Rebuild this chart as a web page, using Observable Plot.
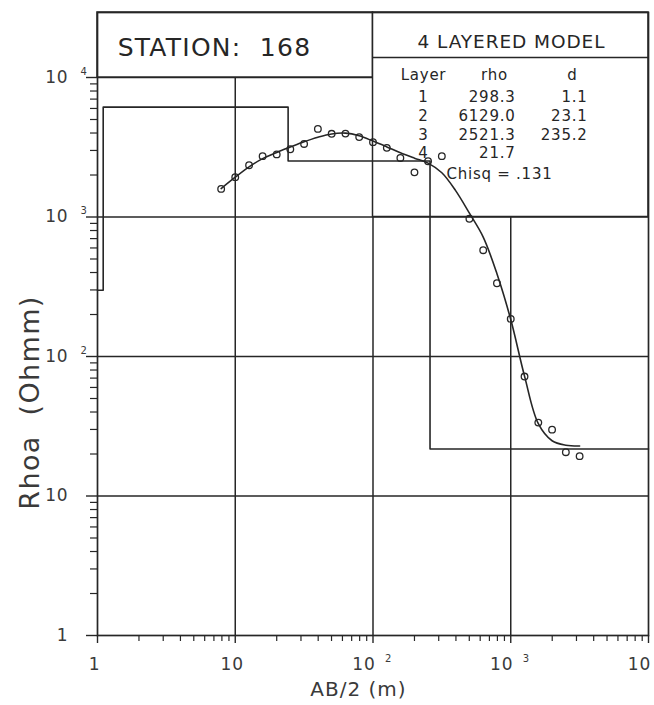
<!DOCTYPE html>
<html>
<head>
<meta charset="utf-8">
<script src="https://cdn.jsdelivr.net/npm/d3@7"></script>
<script src="https://cdn.jsdelivr.net/npm/@observablehq/plot@0.6"></script>
<style>
  html, body { margin: 0; padding: 0; background: #fff; }
  #chart svg { display: block; }
  #chart svg text { letter-spacing: 0.05em; }
</style>
</head>
<body>
<div id="chart"></div>
<script>
// ---------------- data ----------------
const stationLabel = "STATION:  168";
const modelTitle = "4 LAYERED MODEL";
const tableHeader = ["Layer", "rho", "d"];
const layerNo = [1, 2, 3, 4];
const layerRho = [298.3, 6129.0, 2521.3, 21.7];
const layerThick = [1.1, 23.1, 235.2];
const chisqLabel = "Chisq = .131";

// observed apparent resistivity (open circles)
const obsAB  = [7.9, 10, 12.6, 15.8, 20, 25.1, 31.6, 39.8, 50.1, 63.1, 79.4, 100, 126, 158, 200, 251, 316, 501, 631, 794, 1000, 1259, 1585, 1995, 2512, 3162];
const obsRho = [1590, 1930, 2350, 2730, 2810, 3060, 3340, 4280, 3950, 3960, 3740, 3440, 3130, 2650, 2090, 2510, 2730, 971, 578, 335, 186, 71.8, 33.6, 29.9, 20.6, 19.3];

// fitted model response (smooth curve)
const fitAB  = [7.9, 10, 12.6, 15.8, 20, 25.1, 31.6, 39.8, 50.1, 63.1, 79.4, 100, 126, 158, 200, 251, 316, 398, 501, 631, 794, 1000, 1259, 1585, 1995, 2512, 3162];
const fitRho = [1600, 1930, 2290, 2620, 2900, 3170, 3460, 3730, 3940, 3990, 3820, 3500, 3180, 2885, 2640, 2435, 2075, 1545, 1065, 718, 392, 184, 72.3, 33.0, 24.9, 23.1, 22.8];

// axes
const xTickValues = [1, 10, 100, 1000, 10000];
const xTickBase = ["1", "10", "10", "10", "10"];
const xTickExp  = ["", "", "2", "3", ""];
const yTickValues = [1, 10, 100, 1000, 10000];
const yTickBase = ["1", "10", "10", "10", "10"];
const yTickExp  = ["", "", "2", "3", "4"];
const xTitle = "AB/2 (m)";
const yTitle = "Rhoa  (Ohmm)";

// ---------------- derived ----------------
const obs = obsAB.map((x, i) => ({x, y: obsRho[i]}));
const fit = fitAB.map((x, i) => ({x, y: fitRho[i]}));
const bounds = [];
layerThick.reduce((acc, t) => { const b = +(acc + t).toFixed(1); bounds.push(b); return b; }, 0);
const xMin = 1, xMax = 1e4;
const modelPts = [{x: xMin, y: layerRho[0]}]
  .concat(bounds.map((b, i) => ({x: b, y: layerRho[i + 1]})))
  .concat([{x: xMax, y: layerRho[layerRho.length - 1]}]);
const minor = [1, 10, 100, 1000].flatMap(d => d3.range(2, 10).map(k => k * d));
const xTicks = xTickValues.map((v, i) => ({v, base: xTickBase[i], exp: xTickExp[i]}));
const yTicks = yTickValues.map((v, i) => ({v, base: yTickBase[i], exp: yTickExp[i]}));

// ---------------- layout ----------------
const W = 654, H = 705;
const mL = 97, mR = 6, mT = 12, mB = 70;
const yTop = 29240;
const pxPerDecY = (H - mB - mT) / Math.log10(yTop);
const pxPerDecX = (W - mL - mR) / Math.log10(xMax / xMin);
const pyToY = py => 10 ** ((H - mB - py) / pxPerDecY);
const xOut = len => xMin * 10 ** (-len / pxPerDecX);   // tick end, len px left of y axis
const yOut = len => 1 * 10 ** (-len / pxPerDecY);       // tick end, len px below x axis
const ink = "#262626";
const labelInk = "#3a3a3a";

function note(str, px, py, opts = {}) {
  return Plot.text([str], {
    frameAnchor: "top-left", dx: px - mL, dy: py - mT, text: d => d,
    lineAnchor: "middle", textAnchor: "middle", fill: ink, fontSize: 15, ...opts
  });
}

const tableMarks = [
  note(tableHeader[0], 423, 75),
  note(tableHeader[1], 494, 75),
  note(tableHeader[2], 572, 75),
  ...layerNo.flatMap((n, i) => {
    const y = 97 + i * 18.6;
    const m = [
      note(String(n), 423, y),
      note(layerRho[i].toFixed(1), 515, y, {textAnchor: "end"})
    ];
    if (i < layerThick.length) m.push(note(layerThick[i].toFixed(1), 587, y, {textAnchor: "end"}));
    return m;
  }),
  note(chisqLabel, 446, 174, {textAnchor: "start"})
];

const chart = Plot.plot({
  width: W, height: H,
  marginLeft: mL, marginRight: mR, marginTop: mT, marginBottom: mB,
  x: {type: "log", domain: [xMin, xMax], axis: null},
  y: {type: "log", domain: [1, yTop], axis: null},
  style: {fontFamily: "'DejaVu Sans', sans-serif", background: "#fff", overflow: "visible"},
  marks: [
    // grid
    Plot.ruleX([10, 100, 1000], {stroke: ink, strokeWidth: 1.5}),
    Plot.ruleY([10, 100, 1000, 10000], {stroke: ink, strokeWidth: 1.5}),
    // header boxes
    Plot.rect([{x1: 1, x2: 100, y1: 1e4, y2: yTop}], {x1: "x1", x2: "x2", y1: "y1", y2: "y2", fill: "#fff", stroke: ink, strokeWidth: 1.5}),
    Plot.rect([{x1: 100, x2: 1e4, y1: 1e3, y2: yTop}], {x1: "x1", x2: "x2", y1: "y1", y2: "y2", fill: "#fff", stroke: ink, strokeWidth: 1.5}),
    Plot.ruleY([pyToY(57)], {x1: 100, x2: 1e4, stroke: ink, strokeWidth: 1.5}),
    // ticks (outward)
    Plot.ruleY(minor, {x1: xOut(7), x2: xMin, stroke: ink, strokeWidth: 1.2}),
    Plot.ruleY(yTickValues, {x1: xOut(11), x2: xMin, stroke: ink, strokeWidth: 1.4}),
    Plot.ruleX(minor, {y1: yOut(6), y2: 1, stroke: ink, strokeWidth: 1.2}),
    Plot.ruleX(xTickValues, {y1: yOut(8), y2: 1, stroke: ink, strokeWidth: 1.4}),
    // tick labels
    Plot.text(yTicks, {x: 1, y: "v", text: "base", textAnchor: "end", dx: -29, fontSize: 17, fill: labelInk}),
    Plot.text(yTicks.filter(d => d.exp), {x: 1, y: "v", text: "exp", textAnchor: "start", dx: -17, dy: -6, fontSize: 10, fill: labelInk}),
    Plot.text(xTicks.filter(d => d.v < 100), {x: "v", y: 1, text: "base", dx: -3, dy: 29, fontSize: 17, fill: labelInk}),
    Plot.text(xTicks.filter(d => d.v >= 100), {x: "v", y: 1, text: "base", dx: -9, dy: 29, fontSize: 17, fill: labelInk}),
    Plot.text(xTicks.filter(d => d.exp), {x: "v", y: 1, text: "exp", textAnchor: "start", dx: 12, dy: 23, fontSize: 10, fill: labelInk}),
    // axis titles
    note(xTitle, 358, 689, {fontSize: 20, fill: labelInk}),
    note(yTitle, 30, 402, {fontSize: 27, rotate: -90, fill: labelInk}),
    // model, fit, observations
    Plot.line(modelPts, {x: "x", y: "y", curve: "step-after", stroke: ink, strokeWidth: 1.6}),
    Plot.line(fit, {x: "x", y: "y", curve: "catmull-rom", stroke: ink, strokeWidth: 1.6}),
    Plot.dot(obs, {x: "x", y: "y", r: 3.3, stroke: ink, strokeWidth: 1.3, fill: "none"}),
    // box texts
    note(stationLabel, 214, 47, {fontSize: 25}),
    note(modelTitle, 511, 42, {fontSize: 18.5}),
    ...tableMarks,
    Plot.frame({stroke: ink, strokeWidth: 1.7})
  ]
});
document.getElementById("chart").appendChild(chart);
</script>
</body>
</html>
